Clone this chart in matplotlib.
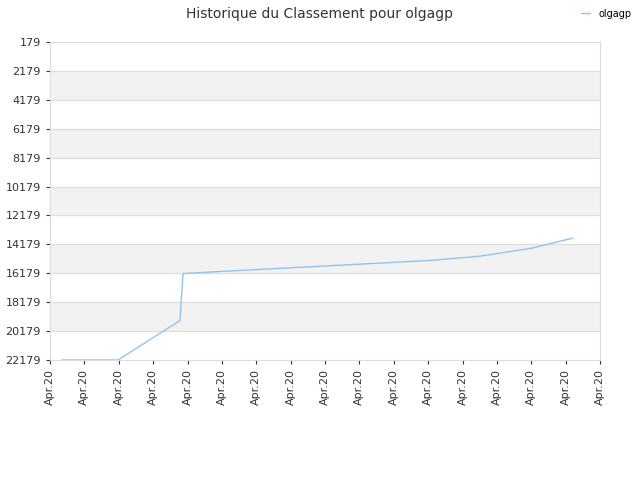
import matplotlib
matplotlib.use("Agg")
import matplotlib.pyplot as plt

# ranking history (x in tick-slot units, y = rank)
x_pos = [0.35, 1.98, 3.78, 3.87, 5.0, 7.0, 9.0, 11.0, 12.5, 14.0, 15.2]
ranks = [22179, 22179, 19450, 16200, 16050, 15800, 15550, 15300, 15000, 14450, 13750]
y_ticks = list(range(179, 22180, 2000))
x_labels = ["Apr.20"] * 17

fig = plt.figure(figsize=(6.4, 4.8), dpi=100)
ax = fig.add_axes([50 / 640, 1 - 360 / 480, 550 / 640, 318 / 480])

for i in range(len(y_ticks) - 1):
    if i % 2 == 1:
        ax.axhspan(y_ticks[i], y_ticks[i + 1], color="#f2f2f2", zorder=0)
for t in y_ticks:
    ax.axhline(t, color="#dddddd", lw=0.8, zorder=0.5)

ax.plot(x_pos, ranks, color="#90c4f0", lw=1, label="olgagp")

ax.set_xlim(0, 16)
ax.set_ylim(22179, 179)
ax.set_yticks(y_ticks)
ax.set_xticks(range(17))
ax.set_xticklabels(x_labels, rotation=90)
ax.tick_params(labelsize=8, colors="#333333", length=3)
for s in ax.spines.values():
    s.set_color("#dddddd")

fig.suptitle("Historique du Classement pour olgagp", y=0.985, fontsize=10, color="#333333")
fig.legend(loc="upper right", bbox_to_anchor=(1.0, 1.0), frameon=False, fontsize=7, handlelength=1)

fig.savefig("out.png")
